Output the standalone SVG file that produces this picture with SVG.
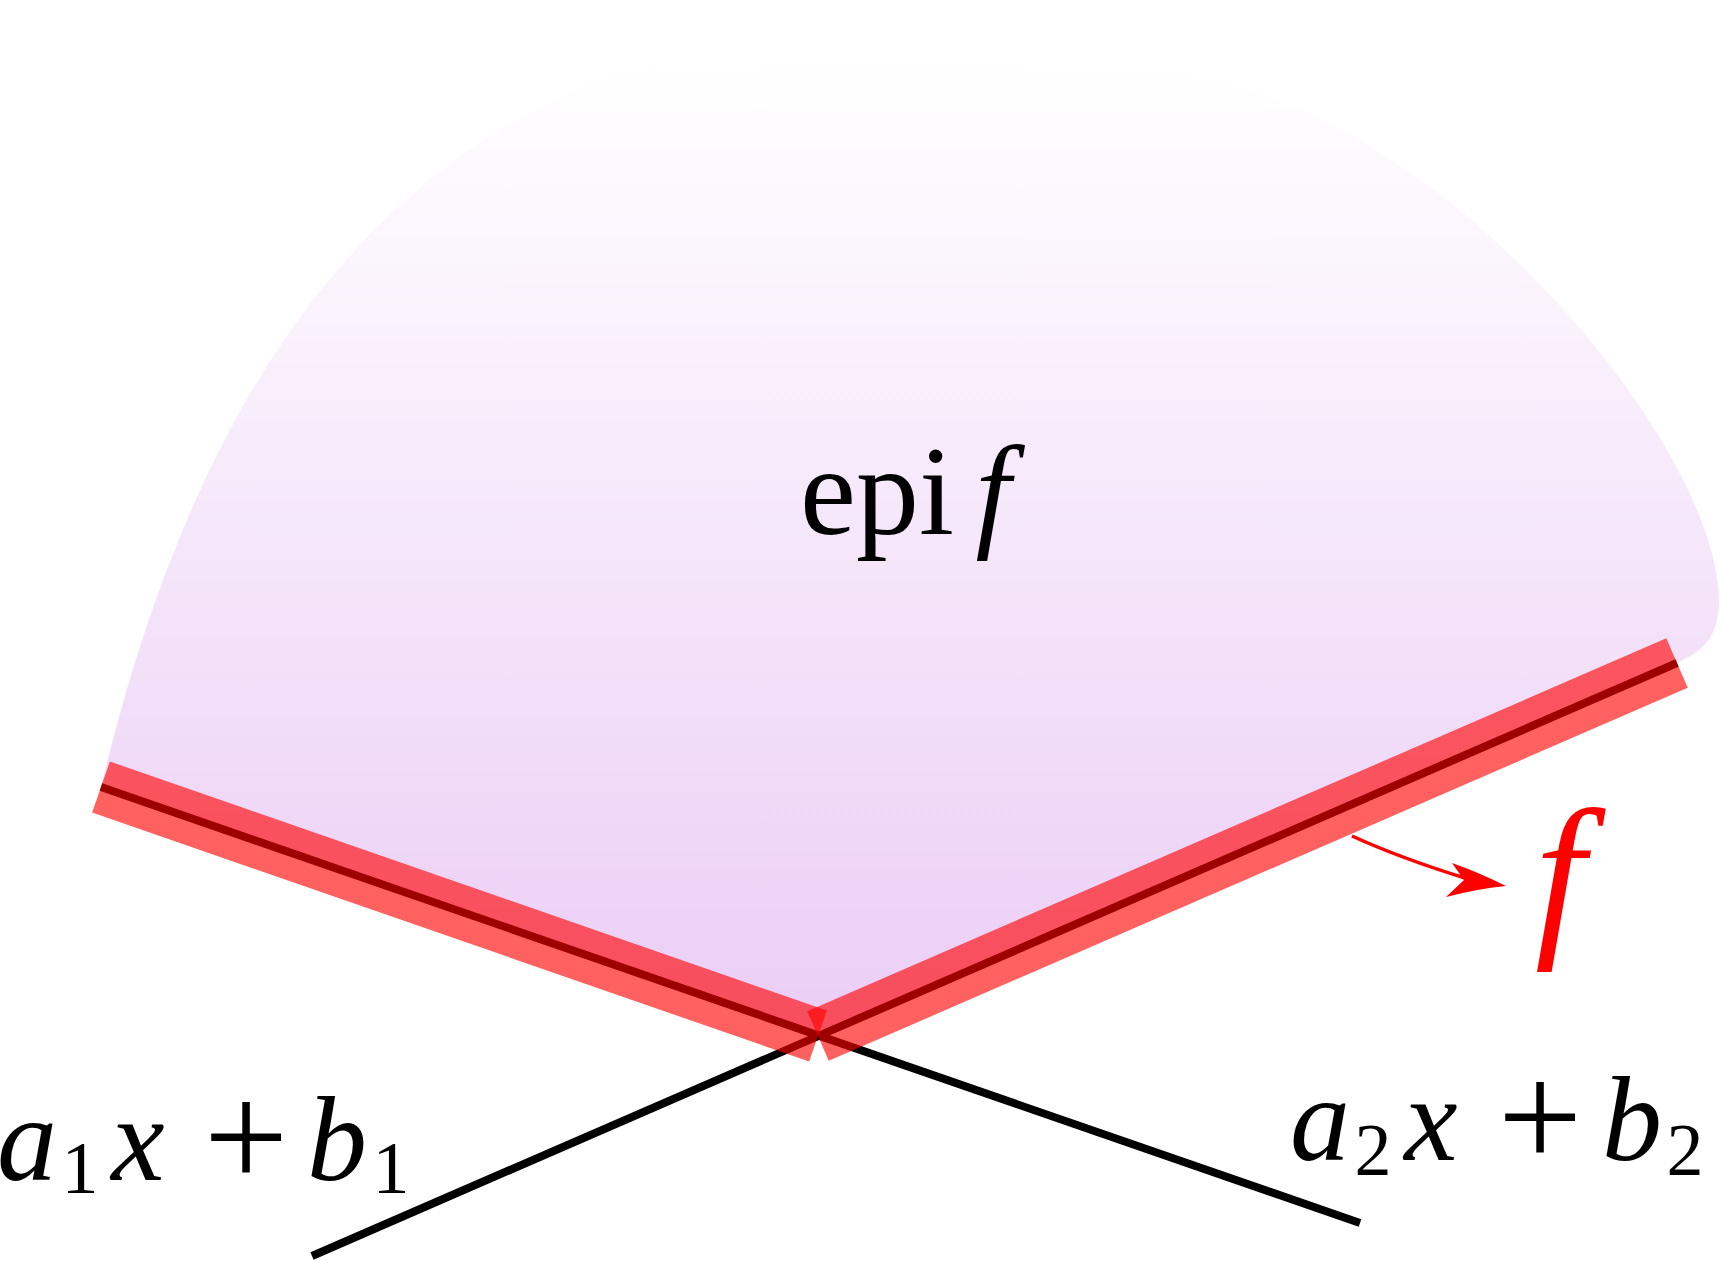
<svg xmlns="http://www.w3.org/2000/svg" width="1720" height="1261" viewBox="0 0 1720 1261">
  <defs>
    <linearGradient id="epiGrad" gradientUnits="userSpaceOnUse" x1="0" y1="60" x2="0" y2="1037">
      <stop offset="0" stop-color="#ffffff"/>
      <stop offset="1" stop-color="#ebcdf5"/>
    </linearGradient>
  </defs>
  <style>
    .txt { font-family: "Liberation Serif", "Times New Roman", serif; fill: #000; }
    .it { font-style: italic; }
    .rm { font-style: normal; }
    .line { stroke: #000; stroke-width: 8; fill: none; stroke-linecap: butt; }
    .band { stroke: #ff0000; stroke-opacity: 0.62; stroke-width: 54; fill: none; stroke-linecap: butt; }
  </style>
  <rect width="1720" height="1261" fill="#ffffff"/>

  <g id="epigraph">
    <path d="M101,787 C170,500 300,200 600,80 C750,20 1080,50 1220,82 C1460,137 1720,450 1719,603 C1718,640 1700,652 1677,663 L818,1036 Z" fill="url(#epiGrad)"/>
  </g>

  <g id="connectors">
    <line id="line1" class="line" x1="312" y1="1256" x2="1677" y2="663"/>
    <line id="line2" class="line" x1="101" y1="787" x2="1360" y2="1223"/>
  </g>

  <g id="f-graph">
    <line class="band" x1="101" y1="787" x2="818" y2="1036"/>
    <line class="band" x1="818" y1="1036" x2="1677" y2="663"/>
  </g>

  <g id="label-epi">
    <text class="txt" font-size="126"><tspan class="rm" x="800" y="534">epi</tspan><tspan class="it" x="993" y="534" text-anchor="middle">f</tspan></text>
  </g>

  <g id="label-a1">
    <text class="txt" font-size="120"><tspan class="it" x="27" y="1180" text-anchor="middle">a</tspan><tspan class="rm" x="80" y="1193" font-size="74" text-anchor="middle">1</tspan><tspan class="it" x="138" y="1180" text-anchor="middle">x</tspan><tspan class="rm" x="246" y="1187" font-size="150" text-anchor="middle">+</tspan><tspan class="it" x="337" y="1180" text-anchor="middle">b</tspan><tspan class="rm" x="391" y="1193" font-size="74" text-anchor="middle">1</tspan></text>
  </g>

  <g id="label-a2">
    <text class="txt" font-size="120"><tspan class="it" x="1320" y="1160" text-anchor="middle">a</tspan><tspan class="rm" x="1373" y="1175" font-size="74" text-anchor="middle">2</tspan><tspan class="it" x="1431" y="1160" text-anchor="middle">x</tspan><tspan class="rm" x="1540" y="1167" font-size="150" text-anchor="middle">+</tspan><tspan class="it" x="1632" y="1160" text-anchor="middle">b</tspan><tspan class="rm" x="1685" y="1175" font-size="74" text-anchor="middle">2</tspan></text>
  </g>

  <g id="label-f">
    <path d="M1352,836 Q1400,858 1468,879" fill="none" stroke="#ff0000" stroke-width="3.5"/>
    <path d="M1506,886 Q1478,872 1452,863 L1464,880 L1446,897 Q1476,889 1506,886 Z" fill="#ff0000"/>
    <text class="txt it" x="1560" y="934" font-size="180" fill="#ff0000" style="fill:#ff0000" text-anchor="middle">f</text>
  </g>
</svg>
